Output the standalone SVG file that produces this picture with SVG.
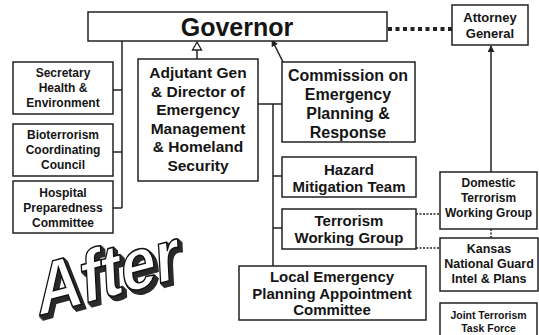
<svg xmlns="http://www.w3.org/2000/svg" width="539" height="335" viewBox="0 0 539 335">
<defs>
<style>
.box{fill:#fff;stroke:#222;stroke-width:1.5}
.ln{fill:none;stroke:#222;stroke-width:1.5}
.dot{fill:none;stroke:#222;stroke-width:1.5;stroke-dasharray:2 1.5}
.big{fill:none;stroke:#222;stroke-width:4;stroke-dasharray:4 3.5}
text{font-family:"Liberation Sans",Arial,sans-serif;font-weight:bold;fill:#151515;text-anchor:middle}
.t12{font-size:12px}
.t15{font-size:15px}
.t16{font-size:16px}
.after{font-size:72px;text-anchor:start;letter-spacing:-1px}
.sh{fill:#2a2a2a;stroke:#2a2a2a;stroke-width:2}
</style>
<marker id="fa" viewBox="0 0 10 10" refX="9" refY="5" markerWidth="7" markerHeight="7" markerUnits="userSpaceOnUse" orient="auto"><path d="M0,0 L10,5 L0,10 z" fill="#222"/></marker>
</defs>

<g id="connectors">
<line class="ln" x1="122" y1="41" x2="122" y2="208"/>
<line class="ln" x1="113" y1="90" x2="122" y2="90"/>
<line class="ln" x1="113" y1="152" x2="122" y2="152"/>
<line class="ln" x1="113" y1="208" x2="122" y2="208"/>
<line class="ln" x1="197" y1="59" x2="197" y2="50"/>
<path d="M197,42 L201.5,50 L192.5,50 z" fill="#fff" stroke="#222" stroke-width="1.3"/>
<line class="ln" x1="258" y1="104" x2="282" y2="104"/>
<line class="ln" x1="273" y1="104" x2="273" y2="266"/>
<line class="ln" x1="273" y1="176" x2="282" y2="176"/>
<line class="ln" x1="273" y1="228" x2="282" y2="228"/>
<line class="ln" x1="283" y1="62" x2="272" y2="40" marker-end="url(#fa)"/>
<line class="big" x1="388" y1="29" x2="452" y2="29"/>
<line class="ln" x1="491" y1="172" x2="491" y2="46" marker-end="url(#fa)"/>
<line class="dot" x1="416" y1="214" x2="440" y2="214"/>
<line class="dot" x1="416" y1="248" x2="440" y2="248"/>
<line class="dot" x1="491" y1="229" x2="491" y2="238"/>
</g>

<g id="governor">
<rect class="box" x="88" y="12" width="299" height="29"/>
<text x="237" y="36" style="font-size:25px">Governor</text>
</g>

<g id="attorney-general">
<rect class="box" x="452" y="5" width="76" height="40"/>
<text x="490" y="22" style="font-size:13px">Attorney</text>
<text x="490" y="38" style="font-size:13px">General</text>
</g>

<g id="secretary">
<rect class="box" x="13" y="62" width="100" height="52"/>
<text class="t12" x="63" y="77">Secretary</text>
<text class="t12" x="63" y="92">Health &amp;</text>
<text class="t12" x="63" y="107">Environment</text>
</g>

<g id="bioterrorism">
<rect class="box" x="13" y="124" width="100" height="52"/>
<text class="t12" x="63" y="139">Bioterrorism</text>
<text class="t12" x="63" y="154">Coordinating</text>
<text class="t12" x="63" y="169">Council</text>
</g>

<g id="hospital">
<rect class="box" x="13" y="181" width="100" height="52"/>
<text class="t12" x="63" y="197">Hospital</text>
<text class="t12" x="63" y="212">Preparedness</text>
<text class="t12" x="63" y="227">Committee</text>
</g>

<g id="adjutant">
<rect class="box" x="138" y="59" width="120" height="122"/>
<text x="198" y="78" style="font-size:15.5px">Adjutant Gen</text>
<text x="198" y="96.5" style="font-size:15.5px">&amp; Director of</text>
<text x="198" y="115" style="font-size:15.5px">Emergency</text>
<text x="198" y="133.5" style="font-size:15.5px">Management</text>
<text x="198" y="152" style="font-size:15.5px">&amp; Homeland</text>
<text x="198" y="170.5" style="font-size:15.5px">Security</text>
</g>

<g id="commission">
<rect class="box" x="282" y="62" width="133" height="80"/>
<text class="t16" x="348" y="81">Commission on</text>
<text class="t16" x="348" y="100">Emergency</text>
<text class="t16" x="348" y="119">Planning &amp;</text>
<text class="t16" x="348" y="138">Response</text>
</g>

<g id="hazard">
<rect class="box" x="282" y="157" width="134" height="40"/>
<text class="t15" x="349" y="175">Hazard</text>
<text class="t15" x="349" y="192">Mitigation Team</text>
</g>

<g id="terrorism-wg">
<rect class="box" x="282" y="209" width="134" height="40"/>
<text class="t15" x="349" y="226">Terrorism</text>
<text class="t15" x="349" y="243">Working Group</text>
</g>

<g id="local-emergency">
<rect class="box" x="239" y="266" width="187" height="54"/>
<text class="t15" x="332" y="282">Local Emergency</text>
<text class="t15" x="332" y="298.5">Planning Appointment</text>
<text class="t15" x="332" y="315">Committee</text>
</g>

<g id="domestic">
<rect class="box" x="440" y="172" width="97" height="57"/>
<text class="t12" x="488.5" y="187">Domestic</text>
<text class="t12" x="488.5" y="202">Terrorism</text>
<text class="t12" x="488.5" y="217">Working Group</text>
</g>

<g id="kansas">
<rect class="box" x="440" y="238" width="98" height="53"/>
<text x="489" y="253" style="font-size:12.5px">Kansas</text>
<text x="489" y="268" style="font-size:12.5px">National Guard</text>
<text x="489" y="283" style="font-size:12.5px">Intel &amp; Plans</text>
</g>

<g id="joint-task-force">
<rect class="box" x="440" y="303" width="97" height="40"/>
<text x="488.5" y="319" style="font-size:10.5px">Joint Terrorism</text>
<text x="488.5" y="332" style="font-size:10.5px">Task Force</text>
</g>

<g id="after-label">
<g transform="translate(4,4)"><text class="after sh" transform="translate(38,316) rotate(-15) skewX(-12) scale(0.9,1)">After</text></g>
<g transform="translate(3,3)"><text class="after sh" transform="translate(38,316) rotate(-15) skewX(-12) scale(0.9,1)">After</text></g>
<g transform="translate(2,2)"><text class="after sh" transform="translate(38,316) rotate(-15) skewX(-12) scale(0.9,1)">After</text></g>
<g transform="translate(1,1)"><text class="after sh" transform="translate(38,316) rotate(-15) skewX(-12) scale(0.9,1)">After</text></g>
<text class="after" transform="translate(38,316) rotate(-15) skewX(-12) scale(0.9,1)" style="fill:#fff;stroke:#111;stroke-width:1.5">After</text>
</g>
</svg>
